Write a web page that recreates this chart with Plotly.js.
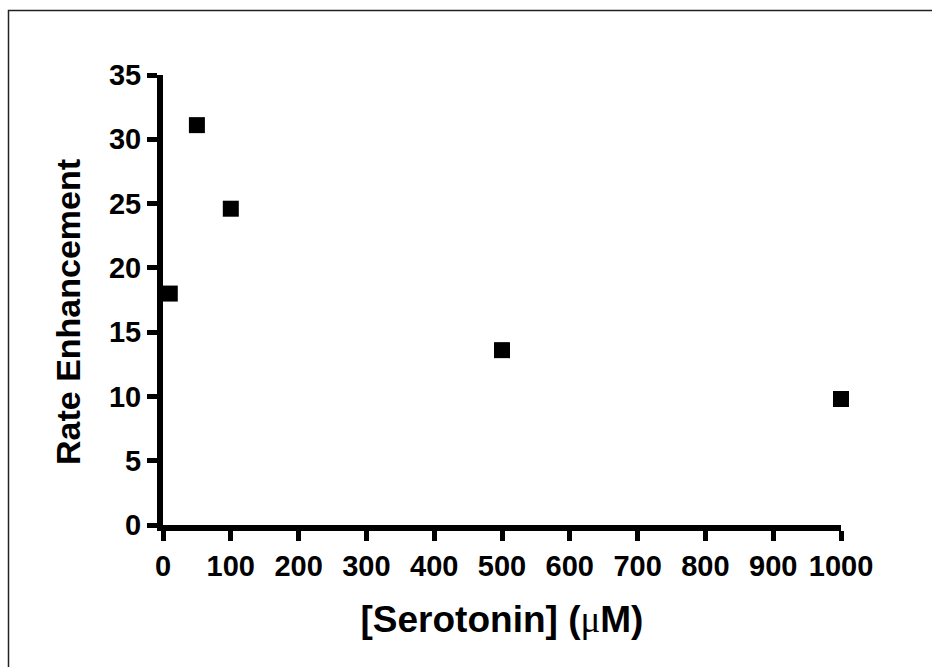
<!DOCTYPE html>
<html>
<head>
<meta charset="utf-8">
<script src="https://cdn.plot.ly/plotly-3.0.1.min.js"></script>
<style>
  html, body { margin: 0; padding: 0; background: #fff; }
  #chart { width: 932px; height: 667px; }
</style>
</head>
<body>
<div id="chart"></div>
<script>
// Data
const serotonin = [10, 50, 100, 500, 1000];          // [Serotonin] (µM)
const rateEnhancement = [18.0, 31.1, 24.6, 13.6, 9.8];
const xTickVals = [0, 100, 200, 300, 400, 500, 600, 700, 800, 900, 1000];
const yTickVals = [0, 5, 10, 15, 20, 25, 30, 35];

const W = 932, H = 667;
const margin = {l: 163, r: 91, t: 75, b: 142, pad: 0};
const plotW = W - margin.l - margin.r;
const plotH = H - margin.t - margin.b;
// pixel -> paper helpers
const px = p => (p - margin.l) / plotW;
const py = p => (H - margin.b - p) / plotH;

const font = 'Liberation Sans, Arial, Helvetica, sans-serif';

const trace = {
  x: serotonin,
  y: rateEnhancement,
  type: 'scatter',
  mode: 'markers',
  marker: {symbol: 'square', size: 16, color: '#000', line: {width: 0}},
  cliponaxis: false,
  showlegend: false,
  hoverinfo: 'x+y'
};

const layout = {
  width: W, height: H,
  margin: margin,
  paper_bgcolor: '#fff',
  plot_bgcolor: '#fff',
  font: {family: font, color: '#000'},
  xaxis: {
    range: [0, 1000],
    tickvals: xTickVals,
    ticktext: xTickVals.map(String),
    showgrid: false, zeroline: false,
    showline: true, linewidth: 6, linecolor: '#000',
    ticks: 'outside', ticklen: 10, tickwidth: 5, tickcolor: '#000',
    tickfont: {family: font, size: 29, color: '#000', weight: 'bold'},
    title: {
      text: '[Serotonin] (<span style="font-family:Liberation Serif;font-weight:normal">μ</span>M)',
      font: {family: font, size: 37, color: '#000', weight: 'bold'},
      standoff: 27
    },
    automargin: false
  },
  yaxis: {
    range: [0, 35],
    tickvals: yTickVals,
    ticktext: yTickVals.map(String),
    showgrid: false, zeroline: false,
    showline: true, linewidth: 6, linecolor: '#000',
    ticks: 'outside', ticklen: 10, tickwidth: 5, tickcolor: '#000',
    tickfont: {family: font, size: 29, color: '#000', weight: 'bold'},
    automargin: false
  },
  annotations: [{
    text: 'Rate Enhancement',
    xref: 'paper', yref: 'paper',
    x: px(68), y: py(312),
    xanchor: 'center', yanchor: 'middle',
    textangle: -90,
    showarrow: false,
    font: {family: font, size: 34, color: '#000', weight: 'bold'}
  }],
  shapes: [{
    type: 'rect', xref: 'paper', yref: 'paper',
    x0: px(8.5), x1: px(W + 20), y0: py(H + 20), y1: py(10.5),
    line: {color: '#222', width: 1.5},
    fillcolor: 'rgba(0,0,0,0)',
    layer: 'below'
  }]
};

Plotly.newPlot('chart', [trace], layout, {displayModeBar: false, staticPlot: true});
</script>
</body>
</html>
